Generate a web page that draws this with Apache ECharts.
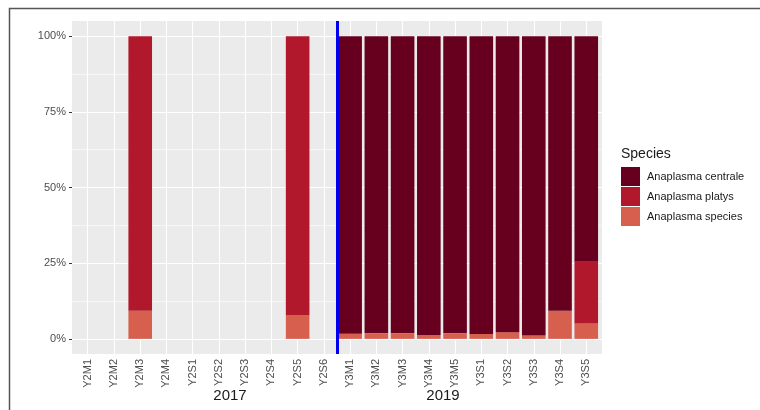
<!DOCTYPE html>
<html>
<head>
<meta charset="utf-8">
<script src="https://cdn.jsdelivr.net/npm/echarts@6/dist/echarts.min.js"></script>
<style>
  html, body { margin: 0; padding: 0; background: #ffffff; }
  #chart { width: 760px; height: 410px; }
</style>
</head>
<body>
<div id="chart"></div>
<script>
// Sampling sites (2017 survey then 2019 survey)
const categories = ['Y2M1', 'Y2M2', 'Y2M3', 'Y2M4', 'Y2S1', 'Y2S2', 'Y2S3', 'Y2S4', 'Y2S5', 'Y2S6',
                    'Y3M1', 'Y3M2', 'Y3M3', 'Y3M4', 'Y3M5', 'Y3S1', 'Y3S2', 'Y3S3', 'Y3S4', 'Y3S5'];

// Share of each species per site, in percent
const speciesShare  = [0, 0, 9.3, 0, 0, 0, 0, 0, 7.7, 0,
                       1.7, 1.9, 1.9, 1.3, 1.9, 1.6, 2.2, 1.1, 9.3, 5.1];
const platysShare   = [0, 0, 90.7, 0, 0, 0, 0, 0, 92.3, 0,
                       0, 0, 0, 0, 0, 0, 0, 0, 0, 20.4];
const centraleShare = [0, 0, 0, 0, 0, 0, 0, 0, 0, 0,
                       98.3, 98.1, 98.1, 98.7, 98.1, 98.4, 97.8, 98.9, 90.7, 74.5];

const yTicks = [0, 25, 50, 75, 100];
const yMinorTicks = [12.5, 37.5, 62.5, 87.5];
const yearLabels = ['2017', '2019'];
const seriesNames = ['Anaplasma centrale', 'Anaplasma platys', 'Anaplasma species'];

const positions = categories.map((c, i) => i + 1);
const FONT = "'Liberation Sans', Arial, sans-serif";

// value first so that the stack accumulates along the y dimension
const toPoints = arr => arr.map((v, i) => [v, i + 1]);

// panel grid lines, drawn beneath the bars
const gridLines = [].concat(
  yTicks.map(v => ({ yAxis: v, lineStyle: { width: 1.1 } })),
  yMinorTicks.map(v => ({ yAxis: v, lineStyle: { width: 0.55 } })),
  positions.map(v => ({ xAxis: v, lineStyle: { width: 1.1 } }))
);

const chart = echarts.init(document.getElementById('chart'), null, { renderer: 'canvas' });

const barBase = {
  type: 'bar', stack: 'share', barWidth: '90%', z: 3,
  encode: { x: 1, y: 0 }
};

chart.setOption({
  animation: false,
  backgroundColor: '#ffffff',
  textStyle: { fontFamily: FONT },
  grid: {
    left: 72, top: 21, width: 530, height: 333,
    show: true, backgroundColor: '#EBEBEB', borderWidth: 0
  },
  xAxis: {
    type: 'value',
    min: 0.4, max: 20.6,
    axisLine: { show: false },
    splitLine: { show: false },
    axisTick: { show: true, length: 3, lineStyle: { color: '#333333', width: 1 }, customValues: positions },
    axisLabel: {
      customValues: positions,
      rotate: 90,
      margin: 5,
      fontSize: 11,
      color: '#4D4D4D',
      fontFamily: FONT,
      formatter: v => categories[Math.round(v) - 1] || ''
    }
  },
  yAxis: {
    type: 'value',
    min: -5, max: 105,
    axisLine: { show: false },
    splitLine: { show: false },
    axisTick: { show: true, length: 3, lineStyle: { color: '#333333', width: 1 }, customValues: yTicks },
    axisLabel: {
      customValues: yTicks,
      margin: 6,
      fontSize: 11,
      color: '#4D4D4D',
      fontFamily: FONT,
      formatter: v => v + '%'
    }
  },
  legend: {
    orient: 'vertical',
    left: 621, top: 167,
    padding: 0,
    itemWidth: 19, itemHeight: 19, itemGap: 1,
    icon: 'rect',
    data: seriesNames,
    textStyle: { fontSize: 11, color: '#1A1A1A', fontFamily: FONT, padding: [0, 0, 0, 2] }
  },
  graphic: [
    {
      type: 'rect', silent: true, z: 100,
      shape: { x: 9.5, y: 8.5, width: 800, height: 500 },
      style: { fill: 'none', stroke: '#555555', lineWidth: 1.5 }
    },
    {
      type: 'text', left: 621, top: 147,
      style: { text: 'Species', fontSize: 14, fill: '#1A1A1A', fontFamily: FONT }
    },
    {
      type: 'text', x: 230, y: 396,
      style: { text: yearLabels[0], fontSize: 15, fill: '#1A1A1A', fontFamily: FONT,
               align: 'center', verticalAlign: 'middle' }
    },
    {
      type: 'text', x: 443, y: 396,
      style: { text: yearLabels[1], fontSize: 15, fill: '#1A1A1A', fontFamily: FONT,
               align: 'center', verticalAlign: 'middle' }
    }
  ],
  series: [
    Object.assign({}, barBase, {
      name: 'Anaplasma species',
      itemStyle: { color: '#D6604D' },
      data: toPoints(speciesShare),
      markLine: {
        z: 1, silent: true, symbol: 'none',
        label: { show: false },
        lineStyle: { color: '#FFFFFF', type: 'solid' },
        data: gridLines
      }
    }),
    Object.assign({}, barBase, {
      name: 'Anaplasma platys',
      itemStyle: { color: '#B2182B' },
      data: toPoints(platysShare)
    }),
    Object.assign({}, barBase, {
      name: 'Anaplasma centrale',
      itemStyle: { color: '#67001F' },
      data: toPoints(centraleShare),
      // divider between the two survey years
      markLine: {
        z: 6, silent: true, symbol: 'none',
        label: { show: false },
        lineStyle: { color: '#0000EE', type: 'solid', width: 3 },
        data: [{ xAxis: 10.5 }]
      }
    })
  ]
});
</script>
</body>
</html>
